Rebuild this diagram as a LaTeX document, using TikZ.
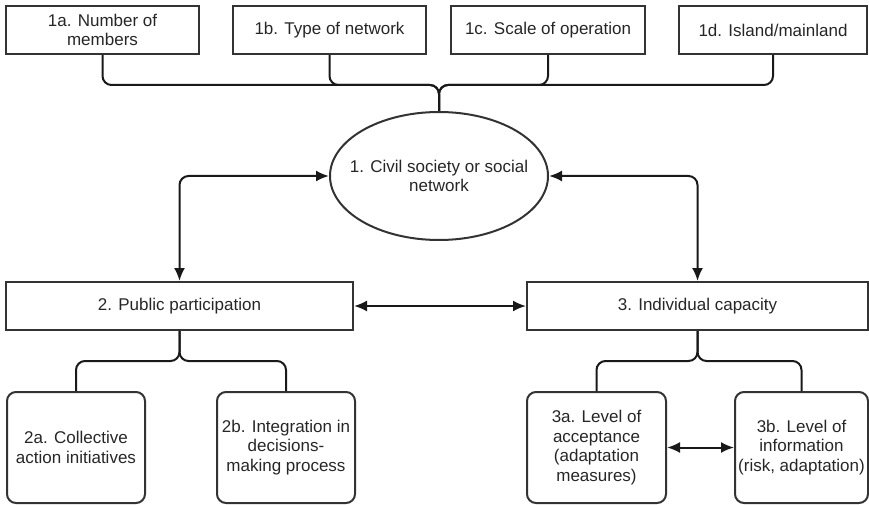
\documentclass[tikz,border=0pt]{standalone}
\usepackage{fontspec}
\setmainfont{Liberation Sans}
\usetikzlibrary{shapes.geometric,arrows.meta}
\begin{document}
\begin{tikzpicture}[x=1pt, y=-1pt,
    box/.style={draw=black!80, line width=2pt, text=black!85, align=center, inner sep=0pt,
        font=\fontsize{17}{19.5}\selectfont},
    topbox/.style={box, minimum height=48pt},
    leafbox/.style={box, rounded corners=9pt, minimum width=138pt, minimum height=111pt},
    link/.style={draw=black!90, line width=2pt, rounded corners=9pt},
    arr/.style={link, {Latex[length=13pt,width=11pt]}-{Latex[length=13pt,width=11pt]}}]
    \useasboundingbox (0,0) rectangle (869,505);

    % Fatores da rede
    \node[topbox, minimum width=193pt] (n1a) at (102.5,30) {1a. Number of\\members};
    \node[topbox, minimum width=193pt] (n1b) at (329.5,30) {1b. Type of network};
    \node[topbox, minimum width=194pt] (n1c) at (548,30) {1c. Scale of operation};
    \node[topbox, minimum width=188pt] (n1d) at (773,30) {1d. Island/mainland};

    % Elipse central
    \node[box, ellipse, inner xsep=-15pt, minimum width=218pt, minimum height=128pt] (n1) at (439,176)
        {1. Civil society or social\\network};

    % Caixas intermediarias
    \node[topbox, minimum width=347pt] (n2) at (179.5,306) {2. Public participation};
    \node[topbox, minimum width=341pt] (n3) at (697.5,306) {3. Individual capacity};

    % Caixas inferiores
    \node[leafbox] (n2a) at (76,447.5) {2a. Collective\\action initiatives};
    \node[leafbox] (n2b) at (286,447.5) {2b. Integration in\\decisions-\\making process};
    \node[leafbox, minimum width=139pt] (n3a) at (596.5,447.5) {3a. Level of\\acceptance\\(adaptation\\measures)};
    \node[leafbox, minimum width=133pt] (n3b) at (801.5,447.5) {3b. Level of\\information\\(risk, adaptation)};

    % Pontos de juncao
    \coordinate (b1) at (439,85);
    \coordinate (b2) at (179.5,361);
    \coordinate (b3) at (697.5,361);

    % Chaves
    \foreach \n in {n1a,n1b,n1c,n1d}
        \draw[link] (\n.south) |- (b1) -- (n1.north);
    \foreach \n in {n2a,n2b}
        \draw[link] (\n.north) |- (b2) -- (n2.south);
    \foreach \n in {n3a,n3b}
        \draw[link] (\n.north) |- (b3) -- (n3.south);

    % Setas duplas
    \draw[arr] (n1.west) -| (n2.north);
    \draw[arr] (n1.east) -| (n3.north);
    \draw[arr] (n2.east) -- (n3.west);
    \draw[arr] (n3a.east) -- (n3b.west);
\end{tikzpicture}
\end{document}
